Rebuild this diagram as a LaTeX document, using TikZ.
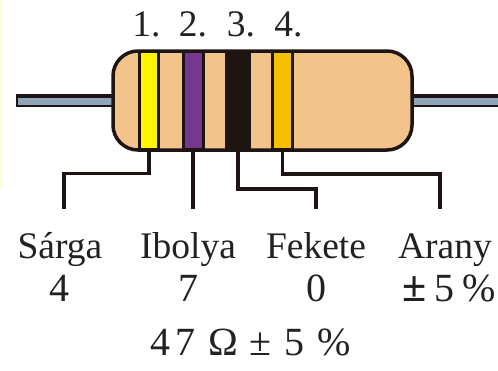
\documentclass[tikz,border=0pt]{standalone}
\usepackage{fontspec}
\setmainfont{Liberation Serif}
\definecolor{peach}{HTML}{F3C38C}
\definecolor{wirefill}{HTML}{8FA6B8}
\definecolor{ink}{HTML}{1E1512}
\definecolor{txt}{HTML}{222222}
\definecolor{bandyellow}{HTML}{FFF500}
\definecolor{bandpurple}{HTML}{74398E}
\definecolor{bandgold}{HTML}{F5C000}
\definecolor{edgeyellow}{HTML}{FFFDD0}
\tikzset{
  bandbox/.style={draw=ink,line width=3.3pt,minimum width=#1,minimum height=99pt,inner sep=0pt,outer sep=0pt,anchor=center},
  lead/.style={draw=ink,line width=3.4pt,line join=miter},
  lab/.style={font=\fontsize{37.5pt}{37.5pt}\selectfont,text=txt,inner sep=0pt,anchor=base},
  biglab/.style={font=\fontsize{40pt}{40pt}\selectfont,text=txt,inner sep=0pt,anchor=base},
}
\begin{document}
\begin{tikzpicture}[x=1pt,y=-1pt]
\useasboundingbox (0,0) rectangle (498,370);
\fill[white] (0,0) rectangle (498,370);
\fill[edgeyellow] (0,0) rectangle (1.5,187);
% wires
\fill[ink] (16,94) rectangle (114,107);
\fill[wirefill] (17.5,98) rectangle (114,105);
\fill[ink] (412,94) rectangle (498,107);
\fill[wirefill] (412,98) rectangle (498,105);
% body
\fill[peach,rounded corners=25pt] (113,51) rectangle (412,150);
\begin{scope}
\clip[rounded corners=25pt] (113,51) rectangle (412,150);
\node[bandbox=19pt,fill=bandyellow] (b1) at (149,100.5) {};
\node[bandbox=20pt,fill=bandpurple] (b2) at (193.5,100.5) {};
\node[bandbox=22pt,fill=ink] (b3) at (238,100.5) {};
\node[bandbox=19.5pt,fill=bandgold] (b4) at (282.5,100.5) {};
\end{scope}
\draw[draw=ink,line width=3.5pt,rounded corners=25pt] (113,51) rectangle (412,150);
% labels
\node[lab] (n1) at (146.5,36) {1.};
\node[lab] (n2) at (193,36) {2.};
\node[lab] (n3) at (241,36) {3.};
\node[lab] (n4) at (288.5,36) {4.};
\node[lab] (c1) at (60,258) {Sárga};
\node[lab] (c2) at (188,258) {Ibolya};
\node[lab] (c3) at (316,258) {Fekete};
\node[lab] (c4) at (445,258) {Arany};
\node[biglab] (v1) at (59.5,301) {4};
\node[biglab] (v2) at (188,301) {7};
\node[biglab] (v3) at (316,301) {0};
\node[biglab] (v4) at (449.5,301) {{\fontsize{44pt}{44pt}\fontseries{b}\selectfont ±}\hspace{8pt}5\hspace{8pt}\%};
\node[biglab] (tot) at (250.5,355) {4\hspace{5pt}7\hspace{13pt}Ω\hspace{12pt}±\hspace{13pt}5\hspace{13pt}\%};
% leads
\coordinate (e1) at (64,209);
\coordinate (e2) at (193,209);
\coordinate (e3) at (316,209);
\coordinate (e4) at (440,209);
\draw[lead] (b1.south) -- (b1.south |- 0,173.5) -| (e1);
\draw[lead] (b2.south -| e2) -- (e2);
\draw[lead] (b3.south) -- (b3.south |- 0,189) -| (e3);
\draw[lead] (b4.south) -- (b4.south |- 0,174) -| (e4);
\end{tikzpicture}
\end{document}
